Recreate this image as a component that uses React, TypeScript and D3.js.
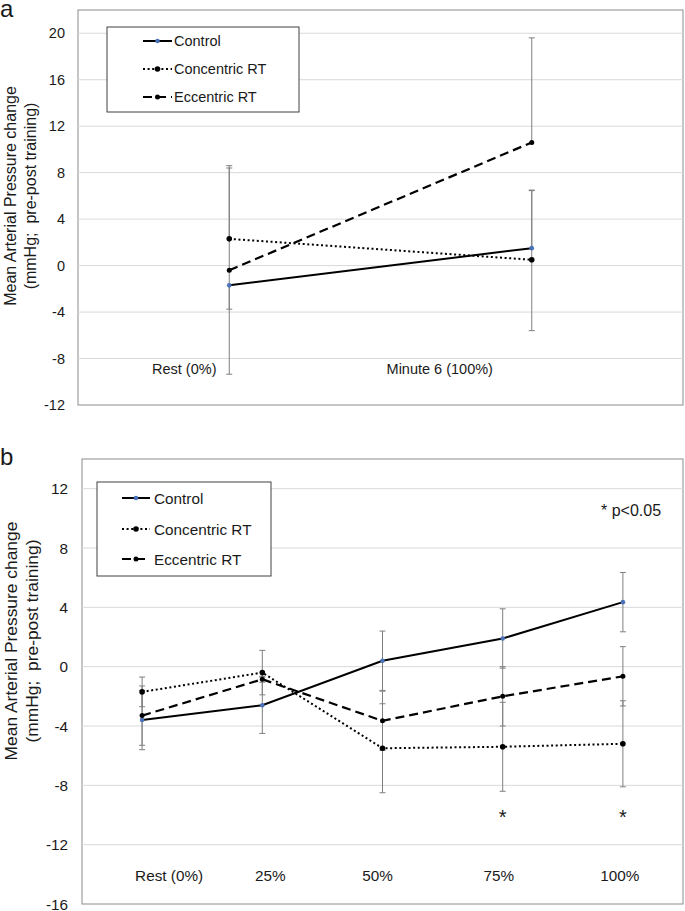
import React from "react";
import * as d3 from "d3";

// ---------- Data (panel a) ----------
const aCategories = ["Rest (0%)", "Minute 6 (100%)"];
const aControl = [-1.7, 1.5];
const aControlErrUp = [0, 4.95];
const aControlErrDown = [2.05, 0];
const aConcentric = [2.3, 0.5];
const aConcentricErrUp = [6.3, 6.0];
const aConcentricErrDown = [0, 6.1];
const aEccentric = [-0.4, 10.6];
const aEccentricErrUp = [8.8, 9.0];
const aEccentricErrDown = [8.95, 0];
const aTicks = [20, 16, 12, 8, 4, 0, -4, -8, -12];

// ---------- Data (panel b) ----------
const bCategories = ["Rest (0%)", "25%", "50%", "75%", "100%"];
const bControl = [-3.6, -2.6, 0.4, 1.9, 4.35];
const bControlErr = [2.0, 1.9, 2.0, 2.0, 2.0];
const bConcentric = [-1.7, -0.4, -5.5, -5.4, -5.2];
const bConcentricErr = [1.0, 1.5, 3.0, 3.0, 2.9];
const bEccentric = [-3.3, -0.85, -3.65, -2.0, -0.65];
const bEccentricErr = [2.0, 0.2, 2.0, 2.0, 2.0];
const bTicks = [12, 8, 4, 0, -4, -8, -12, -16];
const bSignificant = ["75%", "100%"];

const seriesNames = ["Control", "Concentric RT", "Eccentric RT"];

const FONT = "'Liberation Sans', Arial, sans-serif";
const TEXT = "#1a1a1a";

const styles = [
  { dash: undefined as string | undefined, width: 2, marker: "#4a72b8", r: 2.3 },
  { dash: "2,2.6", width: 2, marker: "#000", r: 2.8 },
  { dash: "9,5", width: 2.2, marker: "#000", r: 2.5 },
];

type PanelProps = {
  letter: string;
  letterY: number;
  categories: string[];
  series: number[][];
  errUp: number[][];
  errDown: number[][];
  ticks: number[];
  yDomain: [number, number];
  box: { x0: number; x1: number; y0: number; y1: number };
  tickX: number;
  fontSize: number;
  titleSize: number;
  titleCenterY: number;
  titleX: [number, number];
  labelY: number;
  labelOffsets: number[];
  legend: { x: number; y: number; w: number; h: number; rows: number[]; lx0: number; lx1: number; tx: number };
  significant?: string[];
  sigY?: number;
  note?: { x: number; y: number };
};

function Panel(p: PanelProps) {
  const x = d3
    .scaleBand<string>()
    .domain(p.categories)
    .range([p.box.x0, p.box.x1])
    .paddingInner(0)
    .paddingOuter(0);
  const cx = (c: string) => (x(c) as number) + x.bandwidth() / 2;
  const y = d3.scaleLinear().domain(p.yDomain).range([p.box.y1, p.box.y0]);
  const line = d3
    .line<number>()
    .x((_, i) => cx(p.categories[i]))
    .y((v) => y(v));

  return (
    <g>
      <text x={0} y={p.letterY} fontFamily={FONT} fontSize={24} fill={TEXT}>
        {p.letter}
      </text>
      {/* plot box */}
      <rect
        x={p.box.x0}
        y={p.box.y0}
        width={p.box.x1 - p.box.x0}
        height={p.box.y1 - p.box.y0}
        fill="#fff"
        stroke="#8c8c8c"
        strokeWidth={1}
      />
      {/* gridlines */}
      {p.ticks.map((t) =>
        y(t) < p.box.y1 - 1 ? (
          <line key={"g" + t} x1={p.box.x0} x2={p.box.x1} y1={y(t)} y2={y(t)} stroke="#d9d9d9" strokeWidth={1} />
        ) : null
      )}
      {/* tick labels */}
      {p.ticks.map((t) => (
        <text
          key={"t" + t}
          x={p.tickX}
          y={y(t)}
          textAnchor="end"
          dominantBaseline="central"
          fontFamily={FONT}
          fontSize={p.fontSize}
          fill={TEXT}
        >
          {t}
        </text>
      ))}
      {/* y-axis title */}
      <g transform={`translate(${p.titleX[0]},${p.titleCenterY}) rotate(-90)`}>
        <text textAnchor="middle" dominantBaseline="central" fontFamily={FONT} fontSize={p.titleSize} fill={TEXT}>
          Mean Arterial Pressure change
        </text>
      </g>
      <g transform={`translate(${p.titleX[1]},${p.titleCenterY}) rotate(-90)`}>
        <text
          textAnchor="middle"
          dominantBaseline="central"
          fontFamily={FONT}
          fontSize={p.titleSize}
          fill={TEXT}
          style={{ whiteSpace: "pre" }}
        >
          {"(mmHg;  pre-post training)"}
        </text>
      </g>
      {/* category labels */}
      {p.categories.map((c, i) => (
        <text
          key={"c" + c}
          x={cx(c) + p.labelOffsets[i]}
          y={p.labelY}
          textAnchor="middle"
          dominantBaseline="central"
          fontFamily={FONT}
          fontSize={p.fontSize}
          fill={TEXT}
        >
          {c}
        </text>
      ))}
      {/* error bars */}
      {p.series.map((s, si) =>
        s.map((v, i) => {
          const up = p.errUp[si][i];
          const dn = p.errDown[si][i];
          const xx = cx(p.categories[i]);
          return (
            <g key={`e${si}-${i}`} stroke="#7f7f7f" strokeWidth={1}>
              {(up > 0 || dn > 0) && <line x1={xx} x2={xx} y1={y(v + up)} y2={y(v - dn)} />}
              {up > 0 && <line x1={xx - 3} x2={xx + 3} y1={y(v + up)} y2={y(v + up)} />}
              {dn > 0 && <line x1={xx - 3} x2={xx + 3} y1={y(v - dn)} y2={y(v - dn)} />}
            </g>
          );
        })
      )}
      {/* lines */}
      {p.series.map((s, si) => (
        <path
          key={"l" + si}
          d={line(s) || ""}
          fill="none"
          stroke="#000"
          strokeWidth={styles[si].width}
          strokeDasharray={styles[si].dash}
        />
      ))}
      {/* markers */}
      {p.series.map((s, si) =>
        s.map((v, i) => (
          <circle key={`m${si}-${i}`} cx={cx(p.categories[i])} cy={y(v)} r={styles[si].r} fill={styles[si].marker} />
        ))
      )}
      {/* significance */}
      {p.significant &&
        p.significant.map((c) => (
          <text
            key={"s" + c}
            x={cx(c)}
            y={p.sigY}
            textAnchor="middle"
            fontFamily={FONT}
            fontSize={20}
            fill={TEXT}
          >
            *
          </text>
        ))}
      {p.note && (
        <text x={p.note.x} y={p.note.y} dominantBaseline="central" fontFamily={FONT} fontSize={16} fill={TEXT}>
          * p&lt;0.05
        </text>
      )}
      {/* legend */}
      <rect
        x={p.legend.x}
        y={p.legend.y}
        width={p.legend.w}
        height={p.legend.h}
        fill="#fff"
        stroke="#404040"
        strokeWidth={1}
      />
      {seriesNames.map((n, si) => (
        <g key={"lg" + si}>
          <line
            x1={p.legend.lx0}
            x2={p.legend.lx1}
            y1={p.legend.rows[si]}
            y2={p.legend.rows[si]}
            stroke="#000"
            strokeWidth={styles[si].width}
            strokeDasharray={styles[si].dash}
          />
          <circle
            cx={(p.legend.lx0 + p.legend.lx1) / 2}
            cy={p.legend.rows[si]}
            r={styles[si].r}
            fill={styles[si].marker}
          />
          <text
            x={p.legend.tx}
            y={p.legend.rows[si]}
            dominantBaseline="central"
            fontFamily={FONT}
            fontSize={p.fontSize}
            fill={TEXT}
          >
            {n}
          </text>
        </g>
      ))}
    </g>
  );
}

export default function App() {
  return (
    <svg
      width={685}
      height={911}
      style={{ position: "absolute", left: 0, top: 0, background: "#fff" }}
    >
      <rect x={0} y={0} width={685} height={911} fill="#fff" />
      <Panel
        letter="a"
        letterY={17}
        categories={aCategories}
        series={[aControl, aConcentric, aEccentric]}
        errUp={[aControlErrUp, aConcentricErrUp, aEccentricErrUp]}
        errDown={[aControlErrDown, aConcentricErrDown, aEccentricErrDown]}
        ticks={aTicks}
        yDomain={[-12, 22]}
        box={{ x0: 78, x1: 683, y0: 10, y1: 405 }}
        tickX={65}
        fontSize={14.5}
        titleSize={16}
        titleCenterY={196}
        titleX={[10, 30]}
        labelY={369}
        labelOffsets={[-45, -92]}
        legend={{ x: 107, y: 27, w: 192, h: 85, rows: [41, 69, 97], lx0: 143, lx1: 172, tx: 174 }}
      />
      <Panel
        letter="b"
        letterY={465}
        categories={bCategories}
        series={[bControl, bConcentric, bEccentric]}
        errUp={[bControlErr, bConcentricErr, bEccentricErr]}
        errDown={[bControlErr, bConcentricErr, bEccentricErr]}
        ticks={bTicks}
        yDomain={[-16, 14]}
        box={{ x0: 82, x1: 683, y0: 459, y1: 904 }}
        tickX={68}
        fontSize={15.3}
        titleSize={17.4}
        titleCenterY={641}
        titleX={[11, 32]}
        labelY={875}
        labelOffsets={[27, 8, -5, -4, -3]}
        legend={{ x: 97, y: 482, w: 174, h: 94, rows: [498, 529, 559], lx0: 122, lx1: 150, tx: 154 }}
        significant={bSignificant}
        sigY={824}
        note={{ x: 601, y: 510 }}
      />
    </svg>
  );
}
